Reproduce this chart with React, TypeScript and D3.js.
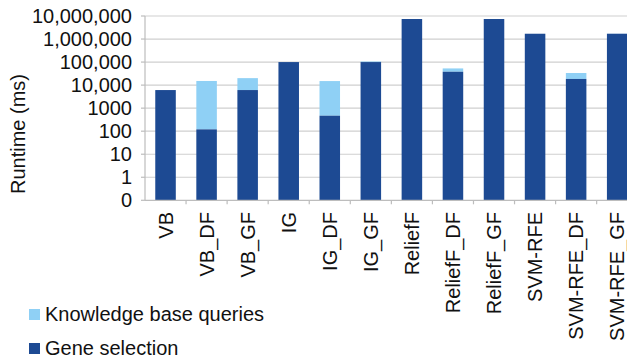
import React from "react";
import * as d3 from "d3";

// Feature-selection methods on the x axis
const methods = [
  "VB", "VB_DF", "VB_GF", "IG", "IG_DF", "IG_GF",
  "ReliefF", "ReliefF_DF", "ReliefF_GF", "SVM-RFE", "SVM-RFE_DF", "SVM-RFE_GF",
];
// Runtime (ms) spent on gene selection
const geneSelection = [
  6100, 120, 6100, 100000, 470, 100000,
  7400000, 38000, 7400000, 1700000, 18500, 1700000,
];
// Runtime (ms) spent on knowledge base queries
const knowledgeQueries = [
  0, 15000, 14000, 0, 14500, 6000,
  0, 15000, 14000, 0, 15000, 14000,
];
// Log-axis ticks; the bottom line (0.1) is shown as "0"
const tickValues = [0.1, 1, 10, 100, 1000, 10000, 100000, 1000000, 10000000];
const tickLabels = ["0", "1", "10", "100", "1000", "10,000", "100,000", "1,000,000", "10,000,000"];

const legendItems = [
  { label: "Knowledge base queries", color: "#8fd0f5" },
  { label: "Gene selection", color: "#1d4a93" },
];

const W = 627;
const H = 361;
const plotLeft = 145;
const bandW = 41.06;
const plotTop = 16;
const plotBottom = 200.3;
const FONT = "'Liberation Sans', Arial, Helvetica, sans-serif";
const DARK = "#1d4a93";
const LIGHT = "#8fd0f5";

export default function App() {
  const x = d3
    .scaleBand<string>()
    .domain(methods)
    .range([plotLeft, plotLeft + bandW * methods.length])
    .paddingInner(0)
    .paddingOuter(0);
  const y = d3.scaleLog().domain([0.1, 1e7]).range([plotBottom, plotTop]);
  const barW = x.bandwidth() * 0.5;
  const fs = 20;

  return (
    <svg
      width={W}
      height={H}
      style={{ position: "absolute", left: 0, top: 0, background: "#fff" }}
      fontFamily={FONT}
    >
      {/* gridlines */}
      {tickValues.slice(1).map((t) => (
        <line key={t} x1={plotLeft} x2={W} y1={y(t)} y2={y(t)} stroke="#cfcfcf" strokeWidth={1.2} />
      ))}
      {/* bars */}
      {methods.map((m, i) => {
        const cx = (x(m) as number) + x.bandwidth() / 2;
        const g = geneSelection[i];
        const k = knowledgeQueries[i];
        return (
          <g key={m}>
            {k > 0 && (
              <rect x={cx - barW / 2} width={barW} y={y(g + k)} height={y(g) - y(g + k)} fill={LIGHT} />
            )}
            <rect x={cx - barW / 2} width={barW} y={y(g)} height={y(0.1) - y(g)} fill={DARK} />
          </g>
        );
      })}
      {/* y axis */}
      <line x1={plotLeft} x2={plotLeft} y1={plotTop} y2={plotBottom} stroke="#bdbdbd" strokeWidth={1.2} />
      {tickValues.map((t, i) => (
        <g key={t}>
          <line x1={plotLeft - 4} x2={plotLeft} y1={y(t)} y2={y(t)} stroke="#bdbdbd" strokeWidth={1.2} />
          <text x={132} y={y(t)} dy="0.35em" textAnchor="end" fontSize={fs} fill="#111">
            {tickLabels[i]}
          </text>
        </g>
      ))}
      <text
        transform={`translate(25,134) rotate(-90)`}
        textAnchor="middle"
        fontSize={fs}
        fill="#111"
      >
        Runtime (ms)
      </text>
      {/* x axis */}
      <line x1={plotLeft} x2={W} y1={plotBottom} y2={plotBottom} stroke="#bdbdbd" strokeWidth={1.2} />
      {methods.map((m) => (
        <line
          key={m}
          x1={(x(m) as number) + bandW}
          x2={(x(m) as number) + bandW}
          y1={plotBottom}
          y2={plotBottom + 4}
          stroke="#bdbdbd"
          strokeWidth={1.2}
        />
      ))}
      {methods.map((m) => {
        const cx = (x(m) as number) + x.bandwidth() / 2;
        return (
          <text
            key={m}
            transform={`translate(${cx},212) rotate(-90)`}
            textAnchor="end"
            dy="0.35em"
            fontSize={fs}
            fill="#111"
          >
            {m}
          </text>
        );
      })}
      {/* legend */}
      {legendItems.map((it, i) => (
        <g key={it.label} transform={`translate(29,${309 + i * 34})`}>
          <rect width={11} height={11} fill={it.color} />
          <text x={16} y={5} dy="0.35em" fontSize={fs} fill="#111">
            {it.label}
          </text>
        </g>
      ))}
    </svg>
  );
}
